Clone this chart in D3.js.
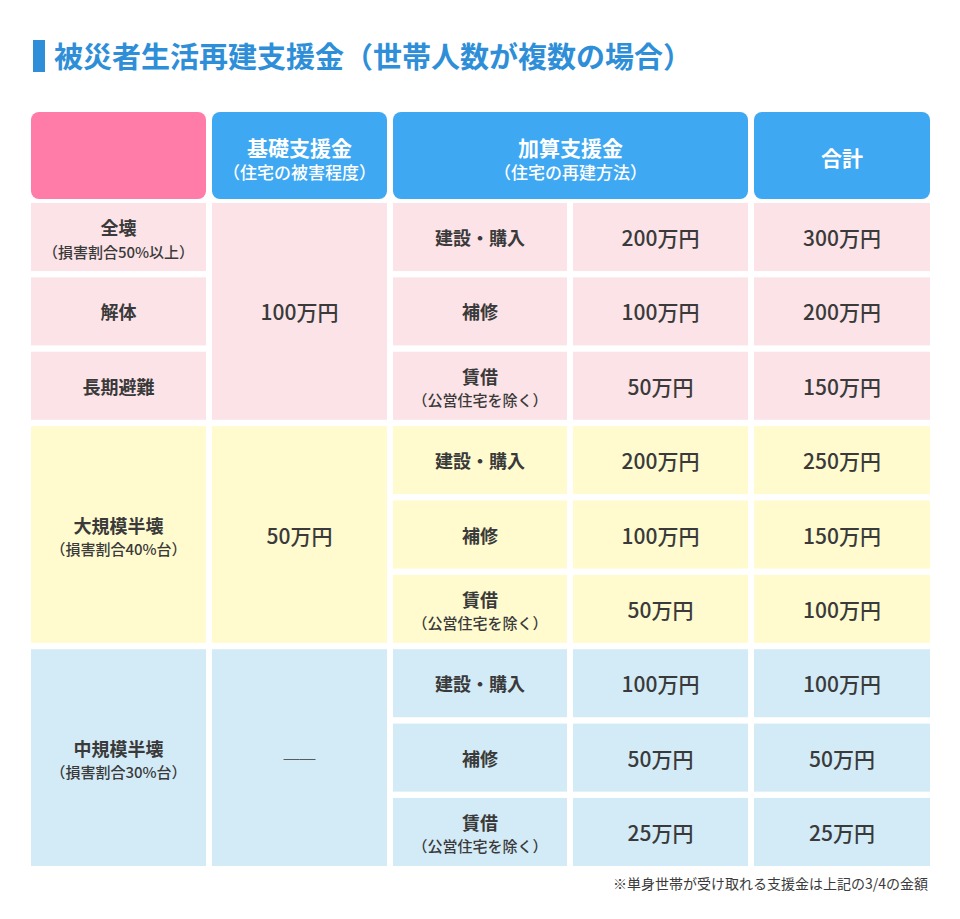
<!DOCTYPE html>
<html><head><meta charset="utf-8">
<script src="https://cdn.jsdelivr.net/npm/d3@7"></script>
<style>body{margin:0;background:#fff}svg{font-family:"Noto Sans CJK JP",sans-serif}</style>
</head><body><svg id="c" width="960" height="919"></svg>
<script>
const title = '被災者生活再建支援金（世帯人数が複数の場合）';
const headers = [['', ''], ['基礎支援金', '（住宅の被害程度）'], ['加算支援金', '（住宅の再建方法）'], ['合計', '']];
const damageLevels = [['全壊', '（損害割合50%以上）'], ['解体', ''], ['長期避難', ''], ['大規模半壊', '（損害割合40%台）'], ['中規模半壊', '（損害割合30%台）']];
const damageRows = [[0, 1], [1, 1], [2, 1], [3, 3], [6, 3]]; // start row, span
const basicSupport = [['100万円', 0, 3], ['50万円', 3, 3], ['──', 6, 3]];
const methods = ['建設・購入', '補修', '賃借', '建設・購入', '補修', '賃借', '建設・購入', '補修', '賃借'];
const addSupport = ['200万円', '100万円', '50万円', '200万円', '100万円', '50万円', '100万円', '50万円', '25万円'];
const totals = ['300万円', '200万円', '150万円', '250万円', '150万円', '100万円', '100万円', '50万円', '25万円'];
const groupColors = ['#fce3e8', '#fffbcf', '#d3ebf7'];
const note = '※単身世帯が受け取れる支援金は上記の3/4の金額';

const svg = d3.select('#c');
const txt = '#3a3a3a';

svg.append('rect').attr('x', 33).attr('y', 40).attr('width', 12).attr('height', 32).attr('fill', '#2e8fd8');
svg.append('text').attr('x', 54).attr('y', 68).attr('font-size', 29).attr('font-weight', 700)
  .attr('fill', '#2e8fd8').text(title);

const colX = [31, 212, 393, 573, 754, 930];
const gap = 6;
const y = d3.scaleBand().domain(d3.range(9)).range([203, 866]).paddingInner(0.085).paddingOuter(0);
const rowY = (s) => y(s);
const spanH = (s, n) => y(s + n - 1) + y.bandwidth() - y(s);
const groupOf = (r) => Math.floor(r / 3);

function cell(x0, x1, y0, h, fill, rx = 0) {
  svg.append('rect').attr('x', x0).attr('y', y0).attr('width', x1 - x0 - gap).attr('height', h)
    .attr('fill', fill).attr('rx', rx);
}
function label(cx, cy, main, sub, size, color, weight = 700, subSize = 15) {
  const off = sub ? -10 : 0;
  svg.append('text').attr('x', cx).attr('y', cy + off).attr('text-anchor', 'middle').attr('dominant-baseline', 'central')
    .attr('font-size', size).attr('font-weight', weight).attr('fill', color).text(main);
  if (sub) svg.append('text').attr('x', cx).attr('y', cy + 14).attr('text-anchor', 'middle').attr('dominant-baseline', 'central')
    .attr('font-size', subSize).attr('font-weight', 500).attr('fill', color).text(sub);
}

// headers
const hx = [[colX[0], colX[1]], [colX[1], colX[2]], [colX[2], colX[4]], [colX[4], colX[5] + gap]];
headers.forEach((h, i) => {
  const [a, b] = hx[i];
  cell(a, b, 112, 87, i === 0 ? '#ff7ca8' : '#3fa8f2', 8);
  if (h[0]) label((a + b - gap) / 2, 157, h[0], h[1], 21, '#fff', 700, 17);
});

// damage level column
damageLevels.forEach((d, i) => {
  const [s, n] = damageRows[i];
  const yy = rowY(s), h = spanH(s, n);
  cell(colX[0], colX[1], yy, h, groupColors[groupOf(s)]);
  label((colX[0] + colX[1] - gap) / 2, yy + h / 2, d[0], d[1], 18, txt);
});

// basic support
basicSupport.forEach(([v, s, n]) => {
  const yy = rowY(s), h = spanH(s, n);
  cell(colX[1], colX[2], yy, h, groupColors[groupOf(s)]);
  label((colX[1] + colX[2] - gap) / 2, yy + h / 2, v, '', v === '──' ? 16 : 21, txt, 500);
});

// per-row cells
methods.forEach((m, r) => {
  const yy = rowY(r), h = y.bandwidth(), c = groupColors[groupOf(r)];
  cell(colX[2], colX[3], yy, h, c);
  label((colX[2] + colX[3] - gap) / 2, yy + h / 2, m, m === '賃借' ? '（公営住宅を除く）' : '', 18, txt);
  cell(colX[3], colX[4], yy, h, c);
  label((colX[3] + colX[4] - gap) / 2, yy + h / 2, addSupport[r], '', 21, txt, 500);
  cell(colX[4], colX[5] + gap, yy, h, c);
  label((colX[4] + colX[5]) / 2, yy + h / 2, totals[r], '', 21, txt, 500);
});

svg.append('text').attr('x', 928).attr('y', 889).attr('text-anchor', 'end').attr('font-size', 14)
  .attr('fill', txt).text(note);
</script></body></html>
